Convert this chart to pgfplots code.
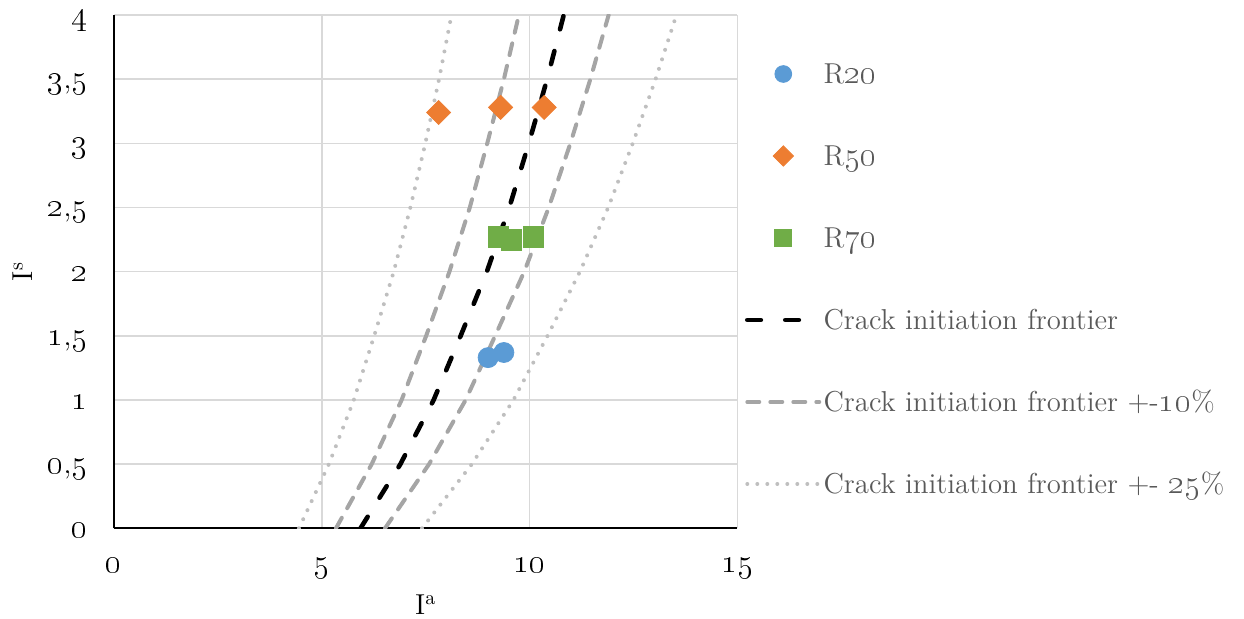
\documentclass[border=0pt]{standalone}
\usepackage{pgfplots}
\pgfplotsset{compat=1.18}
\definecolor{cBlue}{HTML}{5B9BD5}
\definecolor{cOrange}{HTML}{ED7D31}
\definecolor{cGreen}{HTML}{70AD47}
\definecolor{cDash}{HTML}{A5A5A5}
\definecolor{cDot}{HTML}{BFBFBF}
\definecolor{cGrid}{HTML}{D9D9D9}
\definecolor{cText}{HTML}{595959}
\newcommand{\cf}{\fontsize{14.4}{17}\selectfont}
\newcommand{\os}[1]{{\fontsize{17.28}{17}\selectfont\oldstylenums{#1}}}
\pgfplotstableread{
x y
5.93 0
6.89 0.5
7.69 1
8.34 1.5
8.97 2
9.51 2.5
9.98 3
10.42 3.5
10.82 4
}\frontier
\pgfplotstableread{
x y
5.34 0
6.20 0.5
6.92 1
7.51 1.5
8.07 2
8.56 2.5
8.98 3
9.38 3.5
9.74 4
}\minusten
\pgfplotstableread{
x y
6.52 0
7.58 0.5
8.46 1
9.17 1.5
9.87 2
10.46 2.5
10.98 3
11.46 3.5
11.90 4
}\plusten
\pgfplotstableread{
x y
4.45 0
5.17 0.5
5.77 1
6.26 1.5
6.73 2
7.13 2.5
7.49 3
7.82 3.5
8.12 4
}\minusquarter
\pgfplotstableread{
x y
7.41 0
8.61 0.5
9.61 1
10.43 1.5
11.21 2
11.89 2.5
12.48 3
13.03 3.5
13.53 4
}\plusquarter
\pgfplotstableread{
x y
9.00 1.33
9.38 1.37
}\rtwenty
\pgfplotstableread{
x y
7.81 3.24
9.30 3.28
10.35 3.28
}\rfifty
\pgfplotstableread{
x y
9.25 2.27
9.56 2.25
10.09 2.27
}\rseventy
\begin{document}
\begin{tikzpicture}
\begin{axis}[
  at={(0,0)}, anchor=south west,
  scale only axis, width=311.75pt, height=256.65pt,
  xmin=0, xmax=15, ymin=0, ymax=4,
  xtick={0,5,10,15},
  xticklabels={\os{0},\os{5},\os{10},\os{15}},
  ytick={0,0.5,1,1.5,2,2.5,3,3.5,4},
  yticklabels={\os{0},{\os{0},\os{5}},\os{1},{\os{1},\os{5}},\os{2},{\os{2},\os{5}},\os{3},{\os{3},\os{5}},\os{4}},
  axis x line*=bottom, axis y line*=left,
  axis line style={black, line width=1pt, -},
  grid=major, major grid style={cGrid, line width=0.7pt},
  major tick length=0pt,
  tick label style={font=\cf, black, inner sep=0pt},
  xticklabel style={anchor=base, yshift=-22.35pt},
  yticklabel style={anchor=base east, xshift=-13pt, yshift=-4.75pt},
  xlabel={I\textsuperscript{a}}, ylabel={I\textsuperscript{s}},
  xlabel style={at={(axis description cs:0.5,-0.16891)}, anchor=base, font=\cf, inner sep=0pt},
  ylabel style={at={(axis description cs:-0.12991,0.5)}, anchor=base, font=\cf, inner sep=0pt},
  legend style={at={(rel axis cs:1,1)}, anchor=north west, xshift=3.75pt, yshift=-23.5pt,
    draw=none, fill=none, inner sep=0pt, outer sep=0pt, row sep=26pt, column sep=1pt,
    font=\cf, text=cText, nodes={inner sep=0pt, text height=11pt, text depth=4pt}},
  legend cell align=left,
  legend image code/.code={\draw[mark repeat=2,mark phase=2,#1] plot coordinates {(0pt,1.5pt) (18pt,1.5pt) (36pt,1.5pt)};},
]
\addlegendimage{only marks, mark=*, mark size=4.2pt, color=cBlue}
\addlegendentry{R\os{20}}
\addlegendimage{only marks, mark=square*, mark size=3.6pt, mark options={rotate=45}, color=cOrange}
\addlegendentry{R\os{50}}
\addlegendimage{only marks, mark=square*, mark size=4.2pt, color=cGreen}
\addlegendentry{R\os{70}}
\addlegendimage{black, line width=2.3pt, line cap=round, dash pattern=on 6.8pt off 12.2pt}
\addlegendentry{Crack initiation frontier}
\addlegendimage{cDash, line width=2pt, line cap=round, dash pattern=on 6pt off 5.5pt}
\addlegendentry{Crack initiation frontier +-\os{10}\%}
\addlegendimage{cDot, line width=2pt, line cap=round, dash pattern=on 0pt off 5pt}
\addlegendentry{Crack initiation frontier +- \os{25}\%}

\addplot[forget plot, cDot, line width=2pt, line cap=round, dash pattern=on 0pt off 5pt] table {\minusquarter};
\addplot[forget plot, cDot, line width=2pt, line cap=round, dash pattern=on 0pt off 5pt] table {\plusquarter};
\addplot[forget plot, cDash, line width=2pt, line cap=round, dash pattern=on 6pt off 5.5pt] table {\minusten};
\addplot[forget plot, cDash, line width=2pt, line cap=round, dash pattern=on 6pt off 5.5pt] table {\plusten};
\addplot[forget plot, black, line width=2.3pt, line cap=round, dash pattern=on 6.8pt off 11.2pt] table {\frontier};
\addplot[forget plot, only marks, mark=*, mark size=5pt, color=cBlue] table {\rtwenty};
\addplot[forget plot, only marks, mark=square*, mark size=4.25pt, mark options={rotate=45}, color=cOrange] table {\rfifty};
\addplot[forget plot, only marks, mark=square*, mark size=5.2pt, color=cGreen] table {\rseventy};
\end{axis}
\pgfresetboundingbox
\useasboundingbox (-57pt,-45.35pt) rectangle (565pt,264.15pt);
\end{tikzpicture}
\end{document}
